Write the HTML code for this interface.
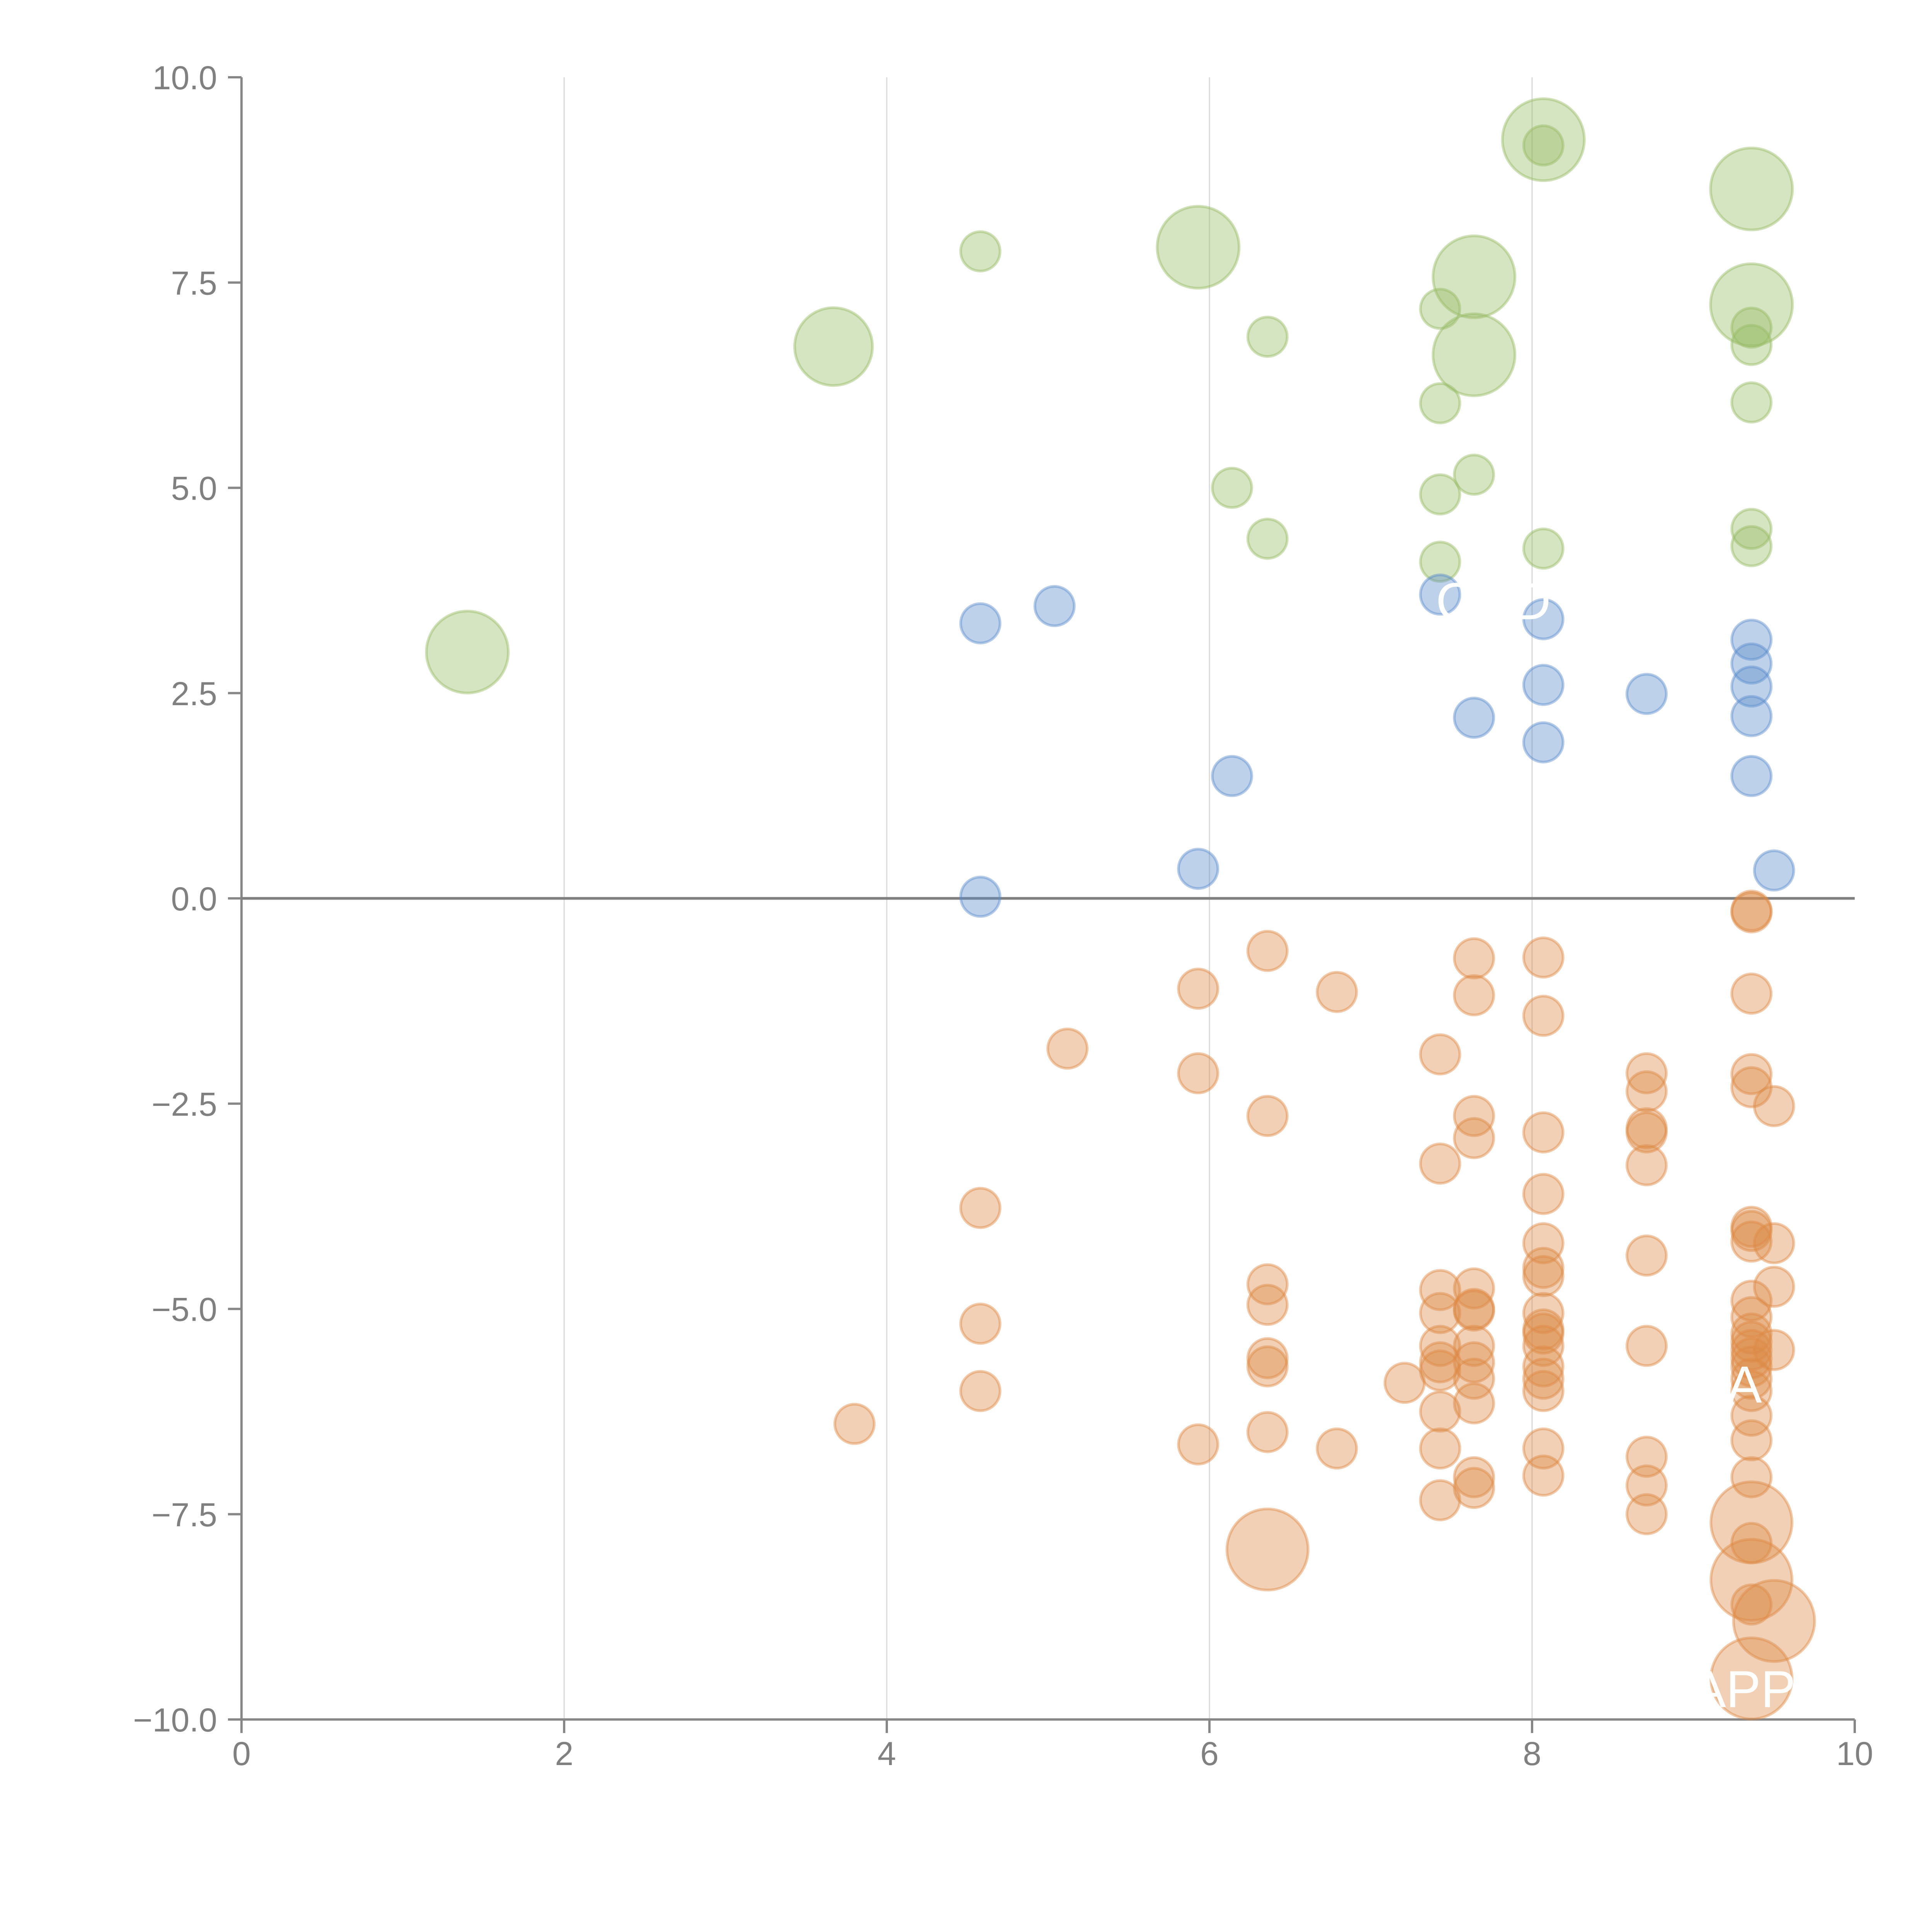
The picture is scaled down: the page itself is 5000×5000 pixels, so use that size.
<!DOCTYPE html>
<html><head><meta charset="utf-8"><style>html,body{margin:0;padding:0;background:#fff}svg{display:block}</style></head>
<body>
<svg id="chart" width="5000" height="5000" viewBox="0 0 5000 5000" xmlns="http://www.w3.org/2000/svg" font-family="'Liberation Sans', sans-serif">
<g id="grid"></g>
<g id="axes"></g>
<g id="marks"></g>
<g id="labels"></g>
</svg>
<script>
const xTicks = [0, 2, 4, 6, 8, 10];
const yTicks = [-10, -7.5, -5, -2.5, 0, 2.5, 5, 7.5, 10];
const yTickLabels = ["−10.0", "−7.5", "−5.0", "−2.5", "0.0", "2.5", "5.0", "7.5", "10.0"];
const greenX = [1.4,3.67,4.58,5.93,6.36,6.14,6.36,7.43,7.64,7.64,7.43,7.64,7.43,7.43,8.07,8.07,8.07,9.36,9.36,9.36,9.36,9.36,9.36,9.36];
const greenY = [3.0,6.72,7.88,7.93,6.84,5.0,4.38,7.18,7.57,6.62,6.03,5.16,4.92,4.1,9.24,9.17,4.26,8.64,7.23,6.95,6.74,6.04,4.5,4.29];
const greenS = [2,1.9,1,2,1,1,1,1,2,2,1,1,1,1,2,1,1,2,2,1,1,1,1,1];
const blueX = [4.58,5.04,4.58,5.93,6.14,7.43,7.64,8.07,8.07,8.07,8.71,9.36,9.36,9.36,9.36,9.36,9.5];
const blueY = [3.35,3.56,0.02,0.36,1.49,3.7,2.2,3.4,2.6,1.9,2.49,3.15,2.86,2.58,2.22,1.49,0.34];
const orangeX = [3.8,4.58,4.58,4.58,5.12,5.93,5.93,5.93,6.36,6.36,6.36,6.36,6.36,6.36,6.36,6.36,6.79,6.79,7.21,
 7.43,7.43,7.43,7.43,7.43,7.43,7.43,7.43,7.43,7.43,
 7.64,7.64,7.64,7.64,7.64,7.64,7.64,7.64,7.64,7.64,7.64,7.64,7.64,
 8.07,8.07,8.07,8.07,8.07,8.07,8.07,8.07,8.07,8.07,8.07,8.07,8.07,8.07,8.07,8.07,
 8.71,8.71,8.71,8.71,8.71,8.71,8.71,8.71,8.71,8.71,
 9.36,9.36,9.36,9.36,9.36,9.36,9.36,9.36,9.36,9.36,9.36,9.36,9.36,9.36,9.36,9.36,9.36,9.36,9.36,9.36,9.36,9.36,9.36,9.36,9.36,
 9.5,9.5,9.5,9.5,9.5];
const orangeY = [-6.4,-3.77,-5.18,-6.0,-1.83,-1.1,-2.13,-6.65,-0.64,-2.65,-4.7,-4.95,-5.6,-5.7,-6.5,-7.93,-1.14,-6.7,-5.9,
 -1.9,-3.23,-4.77,-5.05,-5.45,-5.65,-5.75,-6.25,-6.7,-7.33,
 -0.73,-1.18,-2.65,-2.92,-4.75,-5.0,-5.02,-5.45,-5.65,-5.85,-6.15,-7.05,-7.18,
 -0.72,-1.43,-2.85,-3.6,-4.2,-4.5,-4.6,-5.05,-5.25,-5.3,-5.45,-5.7,-5.85,-6.0,-6.7,-7.03,
 -2.13,-2.35,-2.8,-2.85,-3.25,-4.35,-5.45,-6.8,-7.15,-7.5,
 -0.15,-0.17,-1.16,-2.14,-2.3,-4.0,-4.05,-4.18,-4.9,-5.1,-5.3,-5.4,-5.5,-5.6,-5.7,-5.85,-6.0,-6.3,-6.6,-7.05,-7.6,-7.85,-8.3,-8.6,-9.5,
 -2.53,-4.2,-4.73,-5.5,-8.8];
const orangeBig = [15, 88, 90, 92, 97];

const X0=625, X1=4800, Y0=4450, Y1=200;
const sx = v => X0 + (v/10)*(X1-X0);
const sy = v => Y0 - ((v+10)/20)*(Y0-Y1);
const NS="http://www.w3.org/2000/svg";
function mk(tag, parent, attrs){const e=document.createElementNS(NS,tag);for(const k in attrs)e.setAttribute(k,attrs[k]);parent.appendChild(e);return e;}
const grid=document.getElementById('grid'), axes=document.getElementById('axes'), marks=document.getElementById('marks'), labels=document.getElementById('labels');

xTicks.forEach(t=>{
  if(t>0 && t<10){
    const g=mk('line',grid,{x1:sx(t),x2:sx(t),y1:Y1,y2:Y0,stroke:'#d8d8d8','stroke-width':3});
    
    
  }
  const tk=mk('line',axes,{x1:sx(t),x2:sx(t),y1:Y0,y2:Y0+35,stroke:'#878787','stroke-width':6});
  
  
  const tl=mk('text',axes,{x:sx(t),y:Y0+118,'font-size':86,fill:'#808080','text-anchor':'middle'});
  tl.textContent=String(t);
  
  
});
yTicks.forEach((t,i)=>{
  const tk=mk('line',axes,{x1:X0-35,x2:X0,y1:sy(t),y2:sy(t),stroke:'#878787','stroke-width':6});
  
  
  const tl=mk('text',axes,{x:562,y:sy(t)+31,'font-size':86,fill:'#808080','text-anchor':'end'});
  tl.textContent=yTickLabels[i];
  
  
});
const ya=mk('line',axes,{x1:X0,x2:X0,y1:Y1,y2:Y0,stroke:'#878787','stroke-width':6});


const xa=mk('line',axes,{x1:X0,x2:X1,y1:Y0,y2:Y0,stroke:'#878787','stroke-width':6});


const zl=mk('line',axes,{x1:X0,x2:X1,y1:sy(0),y2:sy(0),stroke:'#808080','stroke-width':7});



function bubble(x,y,r,color,name){
  const c=mk('circle',marks,{cx:sx(x),cy:sy(y),r:r,fill:color,'fill-opacity':0.4,stroke:color,'stroke-opacity':0.45,'stroke-width':7});
  
  
}
greenX.forEach((x,i)=>bubble(x,greenY[i],greenS[i]===1?51:(greenS[i]*53),'#97bb63','green-bubble'));
blueX.forEach((x,i)=>bubble(x,blueY[i],51,'#5b8ccb','blue-bubble'));
orangeX.forEach((x,i)=>bubble(x,orangeY[i],orangeBig.includes(i)?105:51,'#dd8a45','orange-bubble'));

function lbl(x,y,txt){
  const t=mk('text',labels,{x:sx(x),y:sy(y),'font-size':135,fill:'#ffffff','text-anchor':'middle'});
  t.textContent=txt;
  
  
}
lbl(9.2,-6.14,'NA');
lbl(9.31,-9.85,'APP');
lbl(7.52,3.4,'C');
lbl(8.0,3.4,'D');
</script>
</body></html>
